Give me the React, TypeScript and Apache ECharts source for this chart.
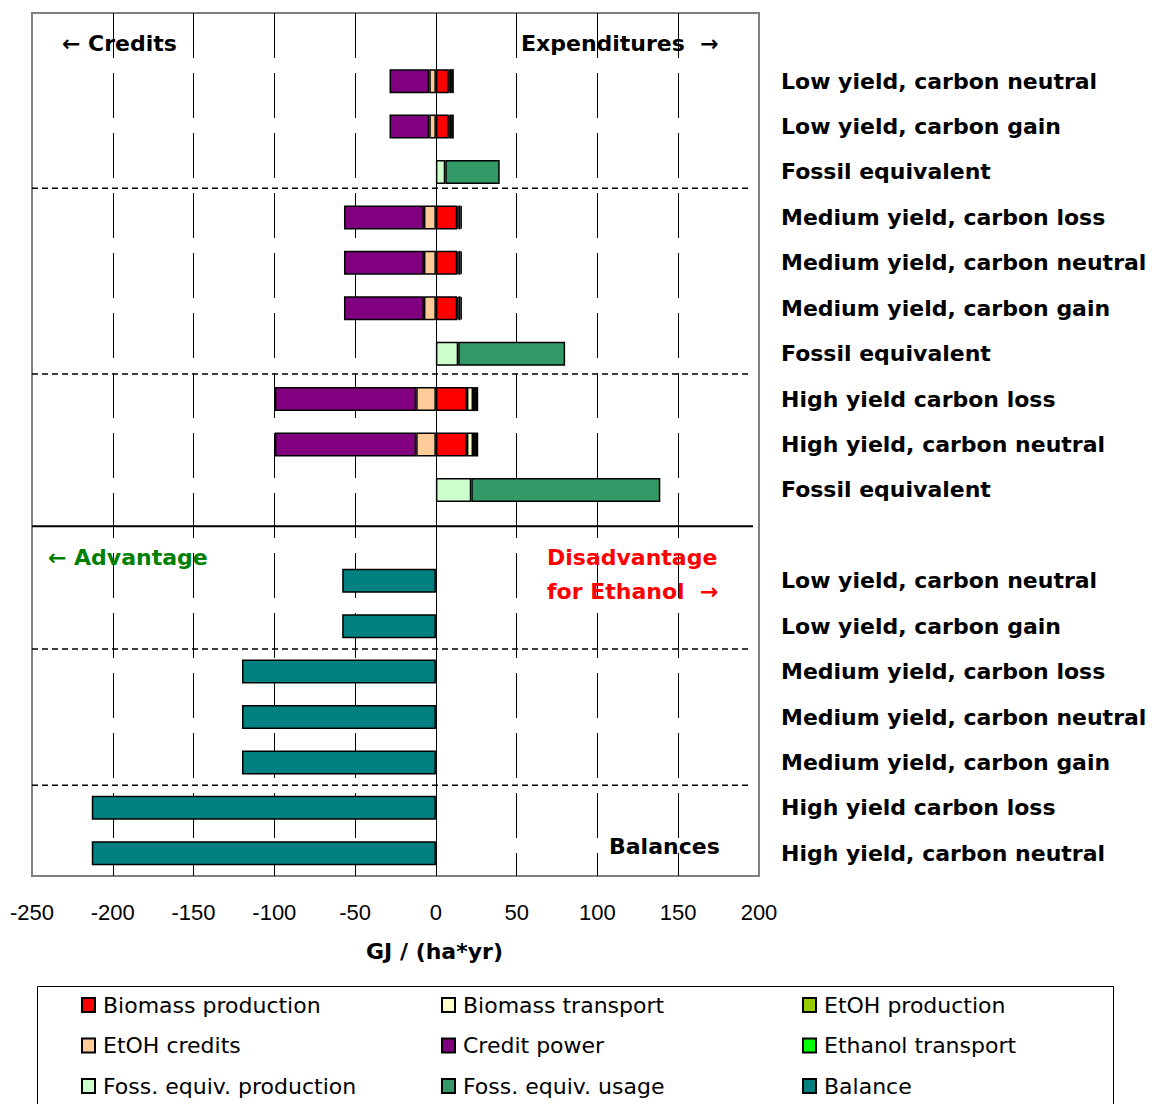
import React, { useEffect, useRef } from "react";
import * as echarts from "echarts";

const ROW_LABELS = [
  "",
  "Low yield, carbon neutral",
  "Low yield, carbon gain",
  "Fossil equivalent",
  "Medium yield, carbon loss",
  "Medium yield, carbon neutral",
  "Medium yield, carbon gain",
  "Fossil equivalent",
  "High yield carbon loss",
  "High yield, carbon neutral",
  "Fossil equivalent",
  "",
  "Low yield, carbon neutral",
  "Low yield, carbon gain",
  "Medium yield, carbon loss",
  "Medium yield, carbon neutral",
  "Medium yield, carbon gain",
  "High yield carbon loss",
  "High yield, carbon neutral",
];

const _ = null;
// rows:                    0   1      2      3    4      5      6      7    8      9      10   11  12  13  14  15  16  17  18
const BIOMASS_PRODUCTION = [_, 7.9, 7.9, _, 13.2, 13.2, 13.2, _, 19.2, 19.2, _, _, _, _, _, _, _, _, _];
const BIOMASS_TRANSPORT = [_, 0.5, 0.5, _, 0.8, 0.8, 0.8, _, 3.8, 3.8, _, _, _, _, _, _, _, _, _];
const ETOH_PRODUCTION = [_, 1.5, 1.5, _, 1.2, 1.2, 1.2, _, 1.8, 1.8, _, _, _, _, _, _, _, _, _];
const ETHANOL_TRANSPORT = [_, 1.2, 1.2, _, 0.9, 0.9, 0.9, _, 1.4, 1.4, _, _, _, _, _, _, _, _, _];
const ETOH_CREDITS = [_, -4.1, -4.1, _, -7.4, -7.4, -7.4, _, -12.2, -12.2, _, _, _, _, _, _, _, _, _];
const CREDIT_POWER = [_, -24.6, -24.6, _, -49.5, -49.5, -49.5, _, -87.5, -87.5, _, _, _, _, _, _, _, _, _];
const FOSS_PRODUCTION = [_, _, _, 5.8, _, _, _, 13.8, _, _, 21.9, _, _, _, _, _, _, _, _];
const FOSS_USAGE = [_, _, _, 33.7, _, _, _, 66.2, _, _, 117, _, _, _, _, _, _, _, _];
const BALANCE = [_, _, _, _, _, _, _, _, _, _, _, _, -58, -58, -120, -120, -120, -213, -213];

const X_MIN = -250;
const X_MAX = 200;
const X_STEP = 50;

const SERIES_DEF = [
  { name: "EtOH credits", data: ETOH_CREDITS, color: "#FFCC99" },
  { name: "Credit power", data: CREDIT_POWER, color: "#800080" },
  { name: "Biomass production", data: BIOMASS_PRODUCTION, color: "#FF0000" },
  { name: "Biomass transport", data: BIOMASS_TRANSPORT, color: "#FFFFCC" },
  { name: "EtOH production", data: ETOH_PRODUCTION, color: "#99CC00" },
  { name: "Ethanol transport", data: ETHANOL_TRANSPORT, color: "#00FF00" },
  { name: "Foss. equiv. production", data: FOSS_PRODUCTION, color: "#CCFFCC" },
  { name: "Foss. equiv. usage", data: FOSS_USAGE, color: "#339966" },
  { name: "Balance", data: BALANCE, color: "#008080" },
];

const LEGEND_COLUMNS = [
  ["Biomass production", "EtOH credits", "Foss. equiv. production"],
  ["Biomass transport", "Credit power", "Foss. equiv. usage"],
  ["EtOH production", "Ethanol transport", "Balance"],
];
const LEGEND_LEFT = [81, 441, 802];

const BOLD = "DejaVu Sans";

export default function App() {
  const ref = useRef<HTMLDivElement>(null);

  useEffect(() => {
    const chart = echarts.init(ref.current!, null, { renderer: "svg" });
    const gridLeft = 32;
    const gridTop = 13;
    const gridWidth = 727;
    const gridHeight = 863;

    const series: any[] = SERIES_DEF.map((s, i) => ({
      name: s.name,
      type: "bar",
      stack: "total",
      data: s.data,
      barWidth: 24,
      itemStyle: { color: s.color, borderColor: "#000", borderWidth: 1.5 },
      emphasis: { disabled: true },
      ...(i === 0
        ? {
            markLine: {
              silent: true,
              symbol: "none",
              label: { show: false },
              lineStyle: { color: "#000", width: 1, type: "solid" },
              data: [{ xAxis: 0 }],
              z: 1,
            },
          }
        : {}),
    }));

    chart.setOption({
      animation: false,
      grid: {
        left: gridLeft,
        top: gridTop,
        width: gridWidth,
        height: gridHeight,
        show: true,
        borderColor: "#808080",
        borderWidth: 2,
        backgroundColor: "transparent",
        outerBoundsMode: "none",
      },
      xAxis: {
        type: "value",
        min: X_MIN,
        max: X_MAX,
        interval: X_STEP,
        axisLine: { show: false },
        axisTick: { show: false },
        axisLabel: {
          margin: 25,
          fontFamily: "Liberation Sans, Arial",
          fontSize: 22,
          color: "#000",
        },
        splitLine: {
          show: true,
          showMinLine: false,
          showMaxLine: false,
          lineStyle: { color: "#000", width: 1, type: [45, 15] },
        },
        name: "GJ / (ha*yr)",
        nameLocation: "middle",
        nameGap: 64,
        nameTextStyle: {
          fontFamily: BOLD,
          fontWeight: "bold",
          fontSize: 22,
          color: "#000",
          padding: [0, 0, 0, 78],
        },
      },
      yAxis: {
        type: "category",
        inverse: true,
        position: "right",
        data: ROW_LABELS.map((_l, i) => String(i)),
        axisLine: { show: false },
        axisTick: { show: false },
        splitLine: { show: false },
        axisLabel: {
          margin: 22,
          align: "left",
          fontFamily: BOLD,
          fontWeight: "bold",
          fontSize: 22,
          color: "#000",
          formatter: (v: string) => ROW_LABELS[Number(v)],
        },
      },
      legend: LEGEND_COLUMNS.map((col, ci) => ({
        data: col,
        orient: "vertical",
        left: LEGEND_LEFT[ci],
        top: 994,
        padding: 0,
        itemGap: 18.5,
        itemWidth: 13,
        itemHeight: 14,
        icon: "rect",
        selectedMode: false,
        textStyle: {
          fontFamily: "DejaVu Sans",
          fontSize: 22,
          lineHeight: 22,
          color: "#000",
          padding: [0, 0, 0, 3],
        },
      })),
      series,
    });

    const yPix = (pos: number) => {
      const lo = Math.floor(pos);
      const frac = pos - lo;
      const a = chart.convertToPixel({ yAxisIndex: 0 }, String(lo)) as number;
      const b = chart.convertToPixel({ yAxisIndex: 0 }, String(lo + 1)) as number;
      return a + (b - a) * frac;
    };
    const x0 = gridLeft;
    const x1 = gridLeft + gridWidth;

    const sepDashed = [3.36, 7.45, 13.5, 16.5];
    const solidPos = 10.8;

    const textStyle = (text: string, fill: string) => ({
      text,
      fill,
      fontFamily: BOLD,
      fontWeight: "bold",
      fontSize: 22,
      verticalAlign: "middle",
      align: "left",
    });

    const graphic: any[] = [
      ...sepDashed.map((p) => ({
        type: "line",
        silent: true,
        shape: { x1: x0, y1: yPix(p), x2: x1 - 8, y2: yPix(p) },
        style: { stroke: "#000", lineWidth: 1.5, lineDash: [6, 4] },
      })),
      {
        type: "line",
        silent: true,
        shape: { x1: x0, y1: yPix(solidPos), x2: x1 - 6, y2: yPix(solidPos) },
        style: { stroke: "#000", lineWidth: 2 },
      },
      { type: "text", x: 62, y: 43, style: textStyle("← Credits", "#000") },
      { type: "text", x: 521, y: 43, style: textStyle("Expenditures  →", "#000") },
      { type: "text", x: 48, y: 557, style: textStyle("← Advantage", "#008000") },
      { type: "text", x: 547, y: 557, style: textStyle("Disadvantage", "#FF0000") },
      { type: "text", x: 547, y: 591, style: textStyle("for Ethanol  →", "#FF0000") },
      { type: "text", x: 609, y: 846, style: textStyle("Balances", "#000") },
      {
        type: "rect",
        silent: true,
        shape: { x: 37.5, y: 986.5, width: 1076, height: 140 },
        style: { fill: "none", stroke: "#000", lineWidth: 1 },
      },
    ];
    chart.setOption({ graphic });

    return () => chart.dispose();
  }, []);

  return (
    <div
      ref={ref}
      style={{ position: "absolute", left: 0, top: 0, width: 1154, height: 1104, background: "#fff" }}
    />
  );
}
